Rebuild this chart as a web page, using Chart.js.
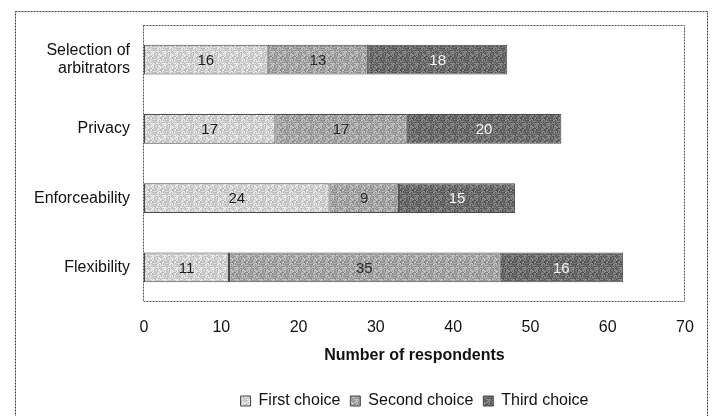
<!DOCTYPE html>
<html>
<head>
<meta charset="utf-8">
<script src="https://cdn.jsdelivr.net/npm/chart.js@4/dist/chart.umd.min.js"></script>
<style>
  html, body { margin: 0; padding: 0; background: #fff; }
  #wrap { width: 712px; height: 416px; }
</style>
</head>
<body>
<div id="wrap"><canvas id="c" width="712" height="416"></canvas></div>
<script>
// Survey results: most valued features of arbitration, by rank of choice
const categories = [['Selection of', 'arbitrators'], 'Privacy', 'Enforceability', 'Flexibility'];
const firstChoice  = [16, 17, 24, 11];
const secondChoice = [13, 17,  9, 35];
const thirdChoice  = [18, 20, 15, 16];
const xTicks = [0, 10, 20, 30, 40, 50, 60, 70];

const FONT = '"Liberation Sans", Arial, Helvetica, sans-serif';

// Speckled halftone fill, like a printed grey screen
function speckle(base, spread) {
  const size = 12;
  const cv = document.createElement('canvas');
  cv.width = size; cv.height = size;
  const g = cv.getContext('2d');
  const img = g.createImageData(size, size);
  for (let y = 0; y < size; y++) {
    for (let x = 0; x < size; x++) {
      let h = (x * 374761393 + y * 668265263) >>> 0;
      h = ((h ^ (h >>> 13)) * 1274126177) >>> 0;
      const t = ((h >>> 8) & 255) / 255 - 0.5;
      const v = Math.max(0, Math.min(255, Math.round(base + t * spread)));
      const i = (y * size + x) * 4;
      img.data[i] = v; img.data[i + 1] = v; img.data[i + 2] = v; img.data[i + 3] = 255;
    }
  }
  g.putImageData(img, 0, 0);
  return g.createPattern(cv, 'repeat');
}

const fills = [speckle(212, 70), speckle(168, 80), speckle(112, 80)];
const labelColors = ['#1a1a1a', '#2a2a2a', '#f4f4f4'];

// Outer frame and plot-area frame
const frames = {
  id: 'frames',
  beforeDraw(chart) {
    const ctx = chart.ctx;
    ctx.save();
    ctx.fillStyle = '#fff';
    ctx.fillRect(0, 0, chart.width, chart.height);
    ctx.strokeStyle = '#3a3a3a';
    ctx.lineWidth = 1;
    ctx.setLineDash([2, 1]);
    ctx.strokeRect(15.5, 11.5, 692, 420);
    const a = chart.chartArea;
    ctx.strokeStyle = '#555';
    ctx.strokeRect(Math.round(a.left) - 0.5, Math.round(a.top) + 0.5,
                   Math.round(a.right - a.left), Math.round(a.bottom - a.top) - 1);
    ctx.restore();
  }
};

// Centre the legend under the plot area and nudge it towards the bottom edge
const legendUnderPlot = {
  id: 'legendUnderPlot',
  afterLayout(chart) {
    const lg = chart.legend, a = chart.chartArea;
    if (!lg) return;
    lg.left = a.left;
    lg.right = a.right;
    lg.width = a.right - a.left;
    lg.top += 3;
    lg.bottom += 3;
  }
};

// Value written in the middle of each bar segment
const segmentLabels = {
  id: 'segmentLabels',
  afterDatasetsDraw(chart) {
    const ctx = chart.ctx;
    ctx.save();
    ctx.font = '15px ' + FONT;
    ctx.textAlign = 'center';
    ctx.textBaseline = 'middle';
    chart.data.datasets.forEach((ds, di) => {
      const meta = chart.getDatasetMeta(di);
      ctx.fillStyle = labelColors[di];
      meta.data.forEach((el, i) => {
        const x = (el.x + el.base) / 2;
        ctx.fillText(String(ds.data[i]), x, el.y + 1);
      });
    });
    ctx.restore();
  }
};

new Chart(document.getElementById('c'), {
  type: 'bar',
  data: {
    labels: categories,
    datasets: [
      { label: 'First choice',  data: firstChoice,  backgroundColor: fills[0] },
      { label: 'Second choice', data: secondChoice, backgroundColor: fills[1] },
      { label: 'Third choice',  data: thirdChoice,  backgroundColor: fills[2] }
    ]
  },
  options: {
    indexAxis: 'y',
    responsive: false,
    animation: false,
    devicePixelRatio: 1,
    layout: { padding: { left: 0, right: 27, top: 25, bottom: 0 } },
    datasets: {
      bar: {
        barPercentage: 0.43,
        categoryPercentage: 1,
        borderColor: '#4a4a4a',
        borderWidth: 1,
        borderSkipped: false
      }
    },
    scales: {
      x: {
        stacked: true,
        min: 0, max: 70,
        afterBuildTicks(axis) { axis.ticks = xTicks.map(v => ({ value: v })); },
        grid: { display: false, drawTicks: false },
        border: { display: false },
        ticks: { color: '#111', font: { family: FONT, size: 16 }, padding: 16 },
        title: {
          display: true,
          text: 'Number of respondents',
          color: '#111',
          font: { family: FONT, size: 16, weight: 'bold' },
          padding: { top: 0, bottom: 15 }
        },
        afterFit(axis) { axis.height = 78; }
      },
      y: {
        stacked: true,
        grid: { display: false, drawTicks: false },
        border: { display: false },
        ticks: { color: '#111', font: { family: FONT, size: 16, lineHeight: 1.15 }, padding: 14 },
        afterFit(axis) { axis.width = 144; }
      }
    },
    plugins: {
      legend: {
        position: 'bottom',
        labels: {
          color: '#111',
          font: { family: FONT, size: 16 },
          boxWidth: 10,
          boxHeight: 10,
          padding: 10
        }
      },
      tooltip: { enabled: false }
    }
  },
  plugins: [frames, legendUnderPlot, segmentLabels]
});
</script>
</body>
</html>
